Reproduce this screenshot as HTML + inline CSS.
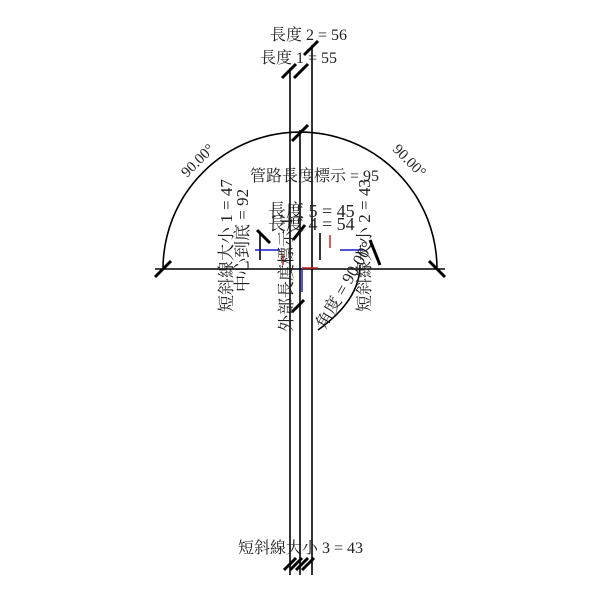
<!DOCTYPE html>
<html><head><meta charset="utf-8"><style>html,body{margin:0;padding:0;background:#fff}svg{display:block}text{font-family:"Liberation Serif","Noto Serif CJK SC","Noto Sans CJK TC",serif;fill:#222}</style></head>
<body>
<svg width="600" height="600" viewBox="0 0 600 600" xmlns="http://www.w3.org/2000/svg">
<g stroke="#000" stroke-width="1.6" fill="none">
<line x1="290" y1="68" x2="290" y2="575"/>
<line x1="312" y1="45" x2="312" y2="575"/>
<line x1="300" y1="130" x2="300" y2="575"/>
<line x1="155" y1="269" x2="445" y2="269"/>
<path d="M163 269 A137 137 0 0 1 437 269"/>
<path d="M318 330 Q360 300 360 265"/>
<line x1="260" y1="233" x2="260" y2="260"/>
<line x1="320" y1="233" x2="320" y2="260"/>
</g>
<g stroke="#000" stroke-width="3">
<line x1="155" y1="277" x2="171" y2="261"/>
<line x1="429" y1="261" x2="445" y2="277"/>
<line x1="292" y1="141" x2="308" y2="125"/>
<line x1="282" y1="78" x2="296" y2="64"/>
<line x1="294" y1="78" x2="308" y2="64"/>
<line x1="304" y1="55" x2="318" y2="41"/>
<line x1="284" y1="570" x2="296" y2="558"/>
<line x1="290" y1="570" x2="302" y2="558"/>
<line x1="296" y1="570" x2="308" y2="558"/>
<line x1="302" y1="570" x2="314" y2="558"/>
<line x1="257" y1="230" x2="270" y2="243"/>
<line x1="370" y1="240" x2="380" y2="265"/>
<line x1="292" y1="312" x2="304" y2="300"/>
<line x1="293" y1="240" x2="305" y2="225"/>
</g>
<g stroke-width="1.5">
<line x1="255" y1="250" x2="280" y2="250" stroke="#1a1acc"/>
<line x1="340" y1="250" x2="363" y2="250" stroke="#1a1acc"/>
<line x1="302" y1="268" x2="302" y2="292" stroke="#1a1acc"/>
<line x1="302" y1="268" x2="318" y2="268" stroke="#cc2222"/>
<line x1="283" y1="255" x2="283" y2="265" stroke="#cc2222"/>
<line x1="330" y1="235" x2="330" y2="248" stroke="#cc2222"/>
</g>
<g font-size="16">
<text x="270" y="40">長度 2 = 56</text>
<text x="260" y="63">長度 1 = 55</text>
<text x="250" y="181" font-size="16">管路長度標示 = 95</text>
<text x="268" y="217" font-size="18">長度 5 = 45</text>
<text x="268" y="230" font-size="18">長度 4 = 54</text>
<text x="238" y="553">短斜線大小 3 = 43</text>
<text transform="translate(187,178) rotate(-45)" font-size="15">90.00°</text>
<text transform="translate(392,150) rotate(45)" font-size="15">90.00°</text>
<text transform="translate(232,312) rotate(-90)" font-size="17">短斜線大小 1 = 47</text>
<text transform="translate(248,292) rotate(-90)" font-size="17">中心到底 = 92</text>
<text transform="translate(292,332) rotate(-90)" font-size="17">外部長度標示 1</text>
<text transform="translate(370,312) rotate(-90)" font-size="17">短斜線大小 2 = 43</text>
<text transform="translate(325,330) rotate(-60)" font-size="17">角度 = 90.00°</text>
</g>
</svg>
</body></html>
